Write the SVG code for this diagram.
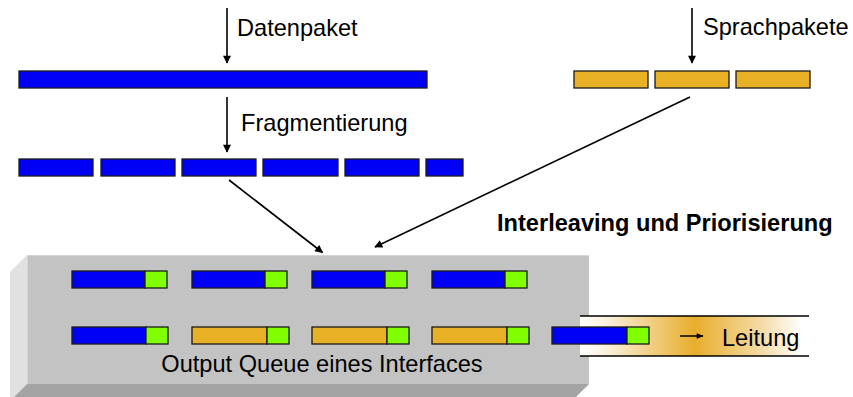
<svg xmlns="http://www.w3.org/2000/svg" width="853" height="397" viewBox="0 0 853 397">
  <style>
    .lbl { font-family: "Liberation Sans", Arial, sans-serif; font-size: 23.6px; fill: #000; }
    .bold { font-weight: bold; }
    .data { fill: #0000F5; stroke: #1a1a1a; stroke-width: 1.3; }
    .voice { fill: #E9B126; stroke: #1a1a1a; stroke-width: 1.3; }
    .hdr { fill: #80FF00; stroke: #1a1a1a; stroke-width: 1.3; }
    .conn { stroke: #000; stroke-width: 1.6; fill: none; marker-end: url(#head); }
  </style>
  <defs>
    <marker id="head" viewBox="0 0 10 10" refX="9" refY="5" markerWidth="9" markerHeight="8" markerUnits="userSpaceOnUse" orient="auto">
      <path d="M0,0 L10,5 L0,10 z" fill="#000"/>
    </marker>
    <marker id="headS" viewBox="0 0 10 10" refX="9" refY="5" markerWidth="8" markerHeight="7" markerUnits="userSpaceOnUse" orient="auto">
      <path d="M0,1 L10,5 L0,9 z" fill="#000"/>
    </marker>
    <linearGradient id="lineGrad" x1="580" y1="0" x2="809" y2="0" gradientUnits="userSpaceOnUse">
      <stop offset="0" stop-color="#FFFFFF"/>
      <stop offset="0.1" stop-color="#FBF3E3"/>
      <stop offset="0.5" stop-color="#E8AE2C"/>
      <stop offset="0.78" stop-color="#F3D9A2"/>
      <stop offset="0.97" stop-color="#FFFFFF"/>
    </linearGradient>
  </defs>

  <!-- output queue: box with bevelled left and bottom faces -->
  <g id="queue">
    <polygon points="10,272 27,255 27,384 10,401" fill="#E1E1E1"/>
    <polygon points="27,384 589,384 572,401 10,401" fill="#A4A4A4"/>
    <rect x="27" y="255" width="562" height="129" fill="#C3C3C3"/>
    <path d="M27.5,384 V255.5 H589" stroke="#D6D6D6" stroke-width="1" fill="none"/>
    <text class="lbl" x="322" y="372" text-anchor="middle">Output Queue eines Interfaces</text>
  </g>

  <!-- transmission line -->
  <g id="leitung">
    <rect x="580" y="316" width="229" height="40" fill="url(#lineGrad)"/>
    <line x1="580" y1="316" x2="809" y2="316" stroke="#000" stroke-width="1.3"/>
    <line x1="580" y1="356" x2="809" y2="356" stroke="#000" stroke-width="1.3"/>
    <line x1="680" y1="336" x2="703" y2="336" stroke="#000" stroke-width="1.5" marker-end="url(#headS)"/>
    <text class="lbl" x="722" y="346">Leitung</text>
  </g>

  <!-- queued packets, row 1 -->
  <g id="queue-row1">
    <rect class="data" x="72" y="271" width="73" height="17"/><rect class="hdr" x="145" y="271" width="22" height="17"/>
    <rect class="data" x="192" y="271" width="73" height="17"/><rect class="hdr" x="265" y="271" width="22" height="17"/>
    <rect class="data" x="312" y="271" width="73" height="17"/><rect class="hdr" x="385" y="271" width="22" height="17"/>
    <rect class="data" x="432" y="271" width="73" height="17"/><rect class="hdr" x="505" y="271" width="22" height="17"/>
  </g>

  <!-- queued packets, row 2 -->
  <g id="queue-row2">
    <rect class="data" x="72" y="327" width="74" height="17"/><rect class="hdr" x="146" y="327" width="22" height="17"/>
    <rect class="voice" x="192" y="327" width="75" height="17"/><rect class="hdr" x="267" y="327" width="22" height="17"/>
    <rect class="voice" x="312" y="327" width="75" height="17"/><rect class="hdr" x="387" y="327" width="22" height="17"/>
    <rect class="voice" x="432" y="327" width="75" height="17"/><rect class="hdr" x="507" y="327" width="22" height="17"/>
    <rect class="data" x="552" y="327" width="75" height="17"/><rect class="hdr" x="627" y="327" width="22" height="17"/>
  </g>

  <!-- data packet -->
  <g id="datenpaket">
    <text class="lbl" x="237" y="36">Datenpaket</text>
    <rect class="data" x="19" y="71" width="408" height="17"/>
  </g>

  <!-- fragments -->
  <g id="fragmente">
    <text class="lbl" x="241" y="131">Fragmentierung</text>
    <rect class="data" x="19" y="159" width="74" height="17"/>
    <rect class="data" x="101" y="159" width="74" height="17"/>
    <rect class="data" x="182" y="159" width="74" height="17"/>
    <rect class="data" x="263" y="159" width="75" height="17"/>
    <rect class="data" x="345" y="159" width="74" height="17"/>
    <rect class="data" x="426" y="159" width="37" height="17"/>
  </g>

  <!-- voice packets -->
  <g id="sprachpakete">
    <text class="lbl" x="703" y="35">Sprachpakete</text>
    <rect class="voice" x="574" y="71" width="74" height="17"/>
    <rect class="voice" x="655" y="71" width="74" height="17"/>
    <rect class="voice" x="736" y="71" width="74" height="17"/>
  </g>

  <g id="interleaving">
    <text class="lbl bold" x="497" y="231">Interleaving und Priorisierung</text>
  </g>

  <!-- connectors -->
  <g id="connectors">
    <line class="conn" x1="227" y1="8" x2="227" y2="63"/>
    <line class="conn" x1="227" y1="97" x2="227" y2="152"/>
    <line class="conn" x1="692" y1="8" x2="692" y2="63"/>
    <line class="conn" x1="229" y1="180" x2="322.5" y2="252.5"/>
    <line class="conn" x1="690" y1="97" x2="375" y2="247"/>
  </g>
</svg>
